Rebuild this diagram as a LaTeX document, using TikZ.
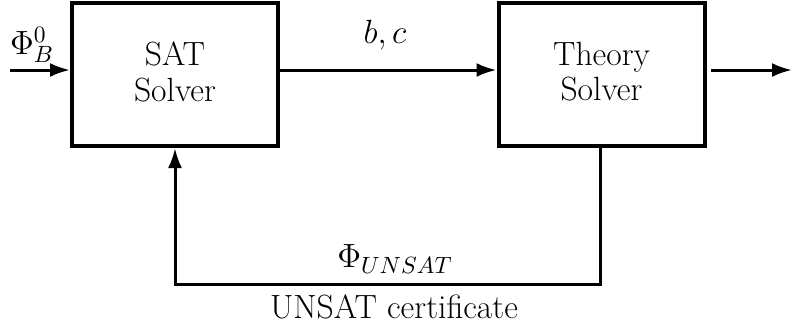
\RequirePackage{fix-cm}
\documentclass[tikz,border=0pt]{standalone}
\usetikzlibrary{arrows.meta}
\begin{document}
\begin{tikzpicture}[x=0.5pt,y=-0.5pt,
  every node/.style={font=\fontsize{16.8}{17.7}\selectfont},
  blockbox/.style={draw,line width=2pt,minimum width=103pt,minimum height=71.5pt,align=center,inner sep=0pt,text depth=3pt},
  flow/.style={line width=1.5pt,-{Latex[length=10pt,width=7pt]}},
  lbl/.style={inner sep=0pt}]
\useasboundingbox (0,0) rectangle (792,329);
\node[blockbox] (S) at (175,74.5) {SAT\\Solver};
\node[blockbox] (T) at (601.5,74.5) {Theory\\Solver};
\coordinate (in) at (10,70);
\coordinate (out0) at (711,70);
\coordinate (out1) at (792,70);
\draw[flow] (in) -- (in -| S.west);
\draw[flow] (S.east |- 0,70) -- (T.west |- 0,70);
\draw[flow] (out0) -- (out1);
\coordinate (fb) at (600,284);
\draw[flow] (T.south -| fb) -- (fb) -| (S.south);
\node[lbl] (phib) at (32,45) {$\Phi_B^0$};
\node[lbl] (bc) at (385,35) {$b,c$};
\node[lbl] (phiu) at (395,259) {$\Phi_{UNSAT}$};
\node[lbl] (cert) at (394,306.5) {UNSAT certificate};
\end{tikzpicture}
\end{document}
